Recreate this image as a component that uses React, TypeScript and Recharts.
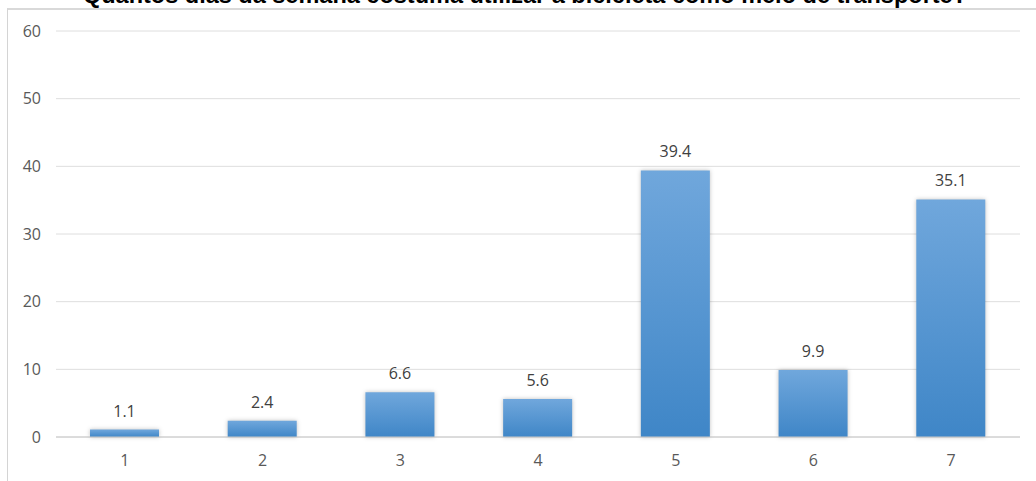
import { BarChart, Bar, XAxis, YAxis, CartesianGrid, LabelList } from 'recharts'

const days = ['1', '2', '3', '4', '5', '6', '7']
const percent = [1.1, 2.4, 6.6, 5.6, 39.4, 9.9, 35.1]
const yTicks = [0, 10, 20, 30, 40, 50, 60]

const data = days.map((d, i) => ({ day: d, value: percent[i] }))

export default function App() {
  return (
    <div style={{ position: 'absolute', left: 0, top: 0, width: 1036, height: 481, overflow: 'hidden', background: '#fff', fontFamily: '"Open Sans", sans-serif' }}>
      <div style={{ position: 'absolute', left: 7, top: 8, width: 1100, height: 600, borderLeft: '1px solid #d4d4d4', borderTop: '2px solid #d9d9d9' }} />
      <div style={{ position: 'absolute', left: 0, top: -17, width: 1050, textAlign: 'center', fontFamily: '"Liberation Sans", Arial, sans-serif', fontWeight: 'bold', fontSize: 23.5, lineHeight: '24px', color: '#000', whiteSpace: 'nowrap' }}>
        Quantos dias da semana costuma utilizar a bicicleta como meio de transporte?
      </div>
      <div style={{ position: 'absolute', left: 0, top: 0 }}>
        <BarChart width={1036} height={481} data={data} margin={{ top: 31, right: 16, left: 0, bottom: 0 }}>
          <defs>
            <linearGradient id="barFill" x1="0" y1="0" x2="0" y2="1">
              <stop offset="0%" stopColor="#70a7dc" />
              <stop offset="100%" stopColor="#3f86c7" />
            </linearGradient>
          </defs>
          <CartesianGrid vertical={false} stroke="#dedede" />
          <XAxis dataKey="day" height={44} tickLine={false} axisLine={{ stroke: '#c8c8c8' }} tickMargin={12}
            tick={{ fill: '#595959', fontSize: 16 }} />
          <YAxis domain={[0, 60]} ticks={yTicks} width={56} tickLine={false} axisLine={false} tickMargin={9}
            tick={{ fill: '#595959', fontSize: 16 }} />
          <Bar dataKey="value" fill="url(#barFill)" barSize={69} isAnimationActive={false}
            style={{ filter: 'drop-shadow(0 0 2px rgba(0,0,0,0.25))' }}>
            <LabelList dataKey="value" position="top" offset={13} fill="#404040" fontSize={16} />
          </Bar>
        </BarChart>
      </div>
    </div>
  )
}
